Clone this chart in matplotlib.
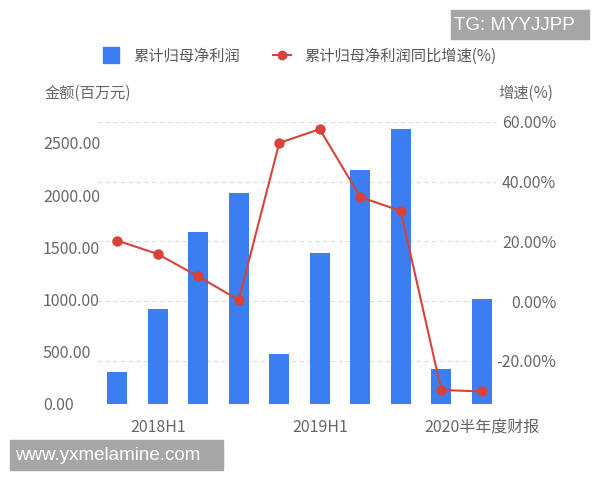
import numpy as np
import matplotlib
matplotlib.use('Agg')
import matplotlib.pyplot as plt
from matplotlib.lines import Line2D
from matplotlib.patches import Rectangle
from matplotlib.transforms import blended_transform_factory

plt.rcParams['font.family'] = ['Noto Sans CJK SC', 'DejaVu Sans']

# data
periods = ['2018Q1', '2018H1', '2018Q3', '2018', '2019Q1', '2019H1',
           '2019Q3', '2019', '2020Q1', '2020半年度财报']
tick_labels = {1: '2018H1', 5: '2019H1', 9: '2020半年度财报'}
profit = [309, 910, 1650, 2018, 482, 1443, 2241, 2634, 335, 1003]
growth = [20.3, 15.8, 8.3, 0.4, 53.0, 57.6, 34.9, 30.2, -29.7, -30.2]

left_ticks = [0, 500, 1000, 1500, 2000, 2500]
right_ticks = [-20, 0, 20, 40, 60]

bar_color = '#3b7ef2'
line_color = '#d6433b'
text_color = '#666666'

fig = plt.figure(figsize=(6, 4.8), dpi=100)
ax = fig.add_axes([97 / 600, 1 - 404 / 480, 405 / 600, 282 / 480])
ax2 = ax.twinx()

x = np.arange(len(periods))
ax.set_xlim(-0.5, len(periods) - 0.5)
ax.set_ylim(0, 2700)
ax2.set_ylim(-34.4, 60)

# grid follows the right axis, drawn behind the bars
tr = blended_transform_factory(ax.transAxes, ax2.transData)
for g in right_ticks:
    ax.plot([0, 0.985], [g, g], transform=tr, color='#dcdcdc', lw=0.8,
            ls=(0, (4, 3)), zorder=0)

ax.bar(x, profit, width=0.5, color=bar_color, zorder=2)
ax2.plot(x, growth, color=line_color, lw=1.5, marker='o', ms=6.5, zorder=3)

for a in (ax, ax2):
    for s in a.spines.values():
        s.set_visible(False)

ax.set_xticks(list(tick_labels.keys()))
ax.set_xticklabels(list(tick_labels.values()))
ax.tick_params(axis='x', length=0, pad=11, labelsize=11.5, labelcolor=text_color)

ax.set_yticks(left_ticks)
ax.set_yticklabels(['%.2f' % v for v in left_ticks])
ax.tick_params(axis='y', length=0, pad=39, labelsize=11.5, labelcolor=text_color)
for lab in ax.get_yticklabels():
    lab.set_horizontalalignment('left')

ax2.set_yticks(right_ticks)
ax2.set_yticklabels(['%.2f%%' % v for v in right_ticks])
ax2.tick_params(axis='y', length=0, pad=39, labelsize=11.5, labelcolor=text_color)
for lab in ax2.get_yticklabels():
    lab.set_horizontalalignment('right')

# axis titles
fig.text(45 / 600, 1 - 93 / 480, '金额(百万元)', ha='left', va='center',
         fontsize=11, color=text_color)
fig.text(553 / 600, 1 - 93 / 480, '增速(%)', ha='right', va='center',
         fontsize=11, color=text_color)

# legend
handles = [Line2D([], [], marker='s', ms=12, ls='none', color=bar_color),
           Line2D([], [], marker='o', ms=6, color=line_color, lw=1.5)]
fig.legend(handles, ['累计归母净利润', '累计归母净利润同比增速(%)'], ncol=2,
           loc='center', bbox_to_anchor=(299 / 600, 1 - 56 / 480), frameon=False,
           fontsize=11, labelcolor='#595959', handlelength=1.2,
           handletextpad=0.85, columnspacing=2.2)

# watermarks
fig.patches.append(Rectangle((451 / 600, 1 - 39 / 480), 138 / 600, 29 / 480,
                             transform=fig.transFigure, color='#a6a6a6', zorder=5))
fig.text(454 / 600, 1 - 25 / 480, 'TG: MYYJJPP', ha='left', va='center',
         fontsize=13.5, color='white', family='Liberation Sans', zorder=6)
fig.patches.append(Rectangle((10 / 600, 1 - 470 / 480), 213 / 600, 30 / 480,
                             transform=fig.transFigure, color='#a6a6a6', zorder=5))
fig.text(15 / 600, 1 - 455 / 480, 'www.yxmelamine.com', ha='left', va='center',
         fontsize=13.5, color='white', family='Liberation Sans', zorder=6)

fig.savefig('out.png', dpi=100)
